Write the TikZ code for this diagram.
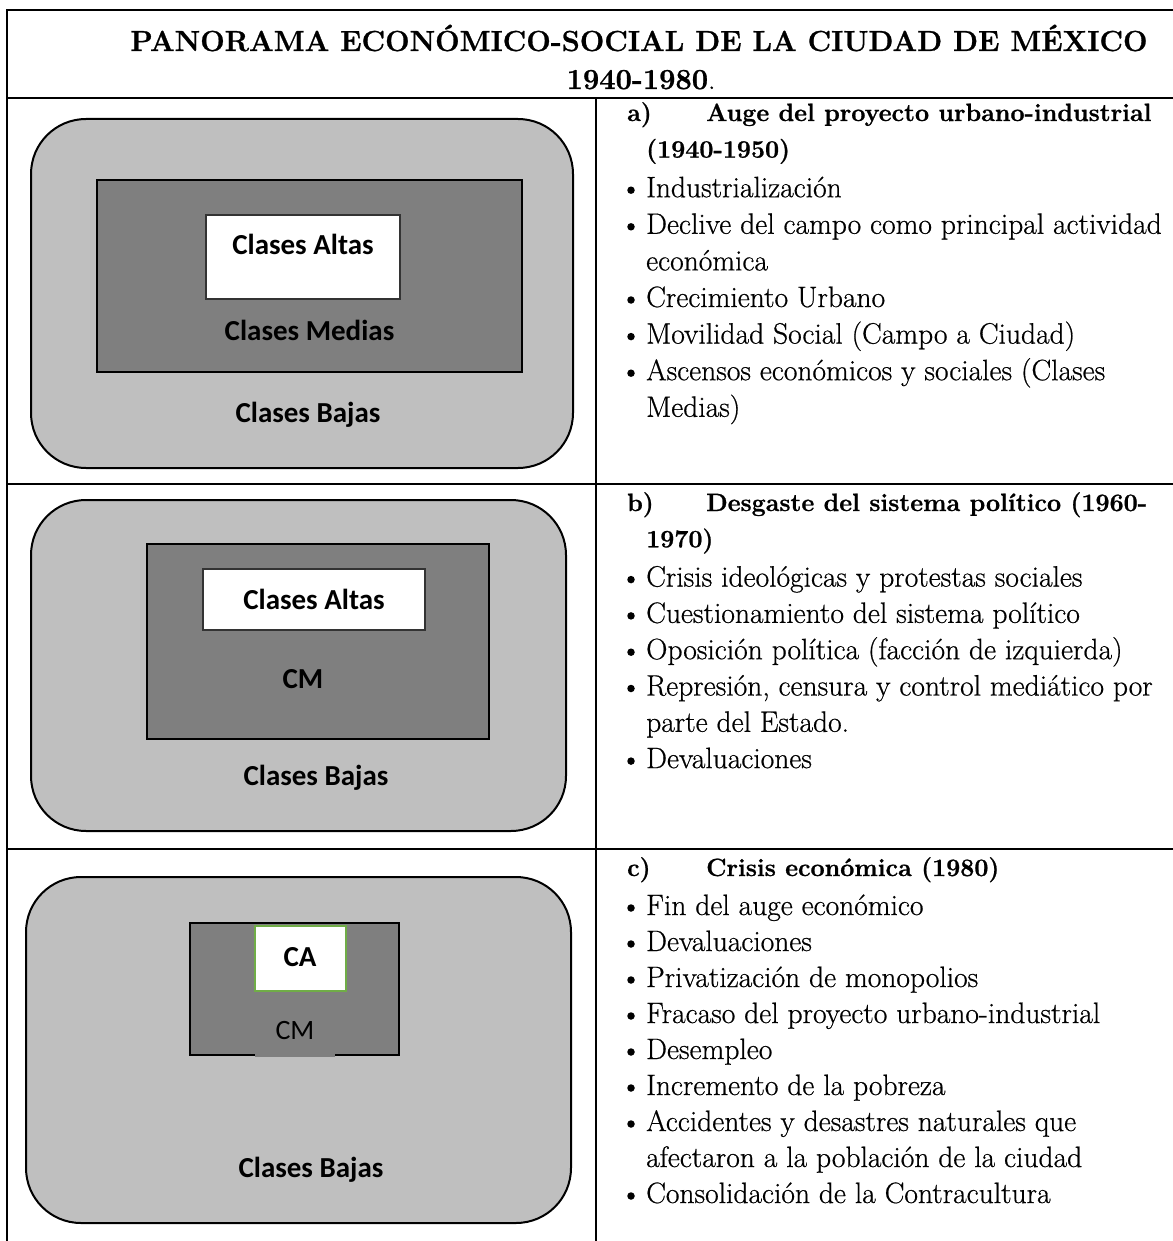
\documentclass[tikz,border=0pt]{standalone}
\usepackage{fontspec}
\newfontfamily\carlito{Carlito}
\newfontfamily\bodyfont{Latin Modern Roman}[RawFeature={embolden=0.6}]
\newfontfamily\headfont{Latin Modern Roman}[RawFeature={embolden=0.9}]
\definecolor{lgray}{RGB}{191,191,191}
\definecolor{dgray}{RGB}{127,127,127}
\definecolor{cagreen}{RGB}{112,173,71}
\tikzset{
  grid/.style={line width=2pt, line cap=rect},
  outerbox/.style={draw=black, line width=2pt, fill=lgray, rounded corners=55pt, inner sep=0pt, outer sep=0pt},
  midbox/.style={draw=black, line width=2pt, fill=dgray, inner sep=0pt, outer sep=0pt},
  topbox/.style={draw=black!80, line width=1.5pt, fill=white, inner sep=0pt, outer sep=0pt},
  greenbox/.style={draw=cagreen, line width=2pt, fill=white, inner sep=0pt, outer sep=0pt},
  boxlbl/.style={inner sep=0pt, font=\carlito\bfseries\fontsize{29}{34}\selectfont},
  boxlblr/.style={inner sep=0pt, font=\carlito\fontsize{28}{34}\selectfont},
  txt/.style={anchor=base west, inner sep=0pt, yshift=-3pt, font=\bodyfont\fontsize{29.5}{34}\selectfont},
  bul/.style={circle, fill=black, inner sep=0pt, minimum size=7.5pt, yshift=4pt},
  head/.style={anchor=base west, inner sep=0pt, font=\headfont\bfseries\fontsize{25}{30}\selectfont},
  ttl/.style={anchor=base, inner sep=0pt, font=\headfont\bfseries\fontsize{29}{34}\selectfont}
}
\begin{document}
\begin{tikzpicture}[x=1pt,y=-1pt]
\useasboundingbox (0,0) rectangle (1172,1241);
\fill[white] (0,0) rectangle (1172,1241);

% table grid
\draw[grid] (1172,10) -- (7,10) -- (7,1241);
\draw[grid] (7,98) -- (1172,98);
\draw[grid] (7,484) -- (1172,484);
\draw[grid] (7,849) -- (1172,849);
\draw[grid] (596,98) -- (596,1241);

% title
\node[ttl] (title1) at (639,51) {PANORAMA ECONÓMICO-SOCIAL DE LA CIUDAD DE MÉXICO};
\node[ttl] (title2) at (641,89) {1940-1980\textmd{.}};

% ---------- row a ----------
\node[outerbox, minimum width=542pt, minimum height=349pt] (oa) at (302,293.5) {};
\node[midbox, minimum width=425pt, minimum height=192pt] (ma) at (309.5,276) {};
\node[topbox, minimum width=194pt, minimum height=84pt] (ta) at (303,257) {};
\node[boxlbl] (la1) at (303,244) {Clases Altas};
\node[boxlbl] (la2) at (309.5,330) {Clases Medias};
\node[boxlbl] (la3) at (308,415) {Clases Bajas};

\node[head] (ha0) at (627,121) {a)};
\node[head] (ha1) at (706,121) {Auge del proyecto urbano-industrial};
\node[head] (ha2) at (646,157.6) {(1940-1950)};
\node[bul] (ba1) at (631,194.2) {};
\node[txt] (ta1) at (646,194.2) {Industrialización};
\node[bul] (ba2) at (631,230.8) {};
\node[txt] (ta2) at (646,230.8) {Declive del campo como principal actividad};
\node[txt] (ta2b) at (646,267.4) {económica};
\node[bul] (ba3) at (631,304) {};
\node[txt] (ta3) at (646,304) {Crecimiento Urbano};
\node[bul] (ba4) at (631,340.6) {};
\node[txt] (ta4) at (646,340.6) {Movilidad Social (Campo a Ciudad)};
\node[bul] (ba5) at (631,377.2) {};
\node[txt] (ta5) at (646,377.2) {Ascensos económicos y sociales (Clases};
\node[txt] (ta5b) at (646,413.8) {Medias)};

% ---------- row b ----------
\node[outerbox, minimum width=535pt, minimum height=331pt] (ob) at (298.5,665.5) {};
\node[midbox, minimum width=342pt, minimum height=195pt] (mb) at (318,641.5) {};
\node[topbox, minimum width=222pt, minimum height=61pt] (tb) at (314,599.5) {};
\node[boxlbl] (lb1) at (314,599) {Clases Altas};
\node[boxlbl] (lb2) at (303,679) {CM};
\node[boxlbl] (lb3) at (316,778) {Clases Bajas};

\node[head] (hb0) at (627,511) {b)};
\node[head] (hb1) at (706,511) {Desgaste del sistema político (1960-};
\node[head] (hb2) at (646,547.3) {1970)};
\node[bul] (bb1) at (631,583.6) {};
\node[txt] (tb1) at (646,583.6) {Crisis ideológicas y protestas sociales};
\node[bul] (bb2) at (631,619.9) {};
\node[txt] (tb2) at (646,619.9) {Cuestionamiento del sistema político};
\node[bul] (bb3) at (631,656.2) {};
\node[txt] (tb3) at (646,656.2) {Oposición política (facción de izquierda)};
\node[bul] (bb4) at (631,692.5) {};
\node[txt] (tb4) at (646,692.5) {Represión, censura y control mediático por};
\node[txt] (tb4b) at (646,728.8) {parte del Estado.};
\node[bul] (bb5) at (631,765.1) {};
\node[txt] (tb5) at (646,765.1) {Devaluaciones};

% ---------- row c ----------
\node[outerbox, minimum width=545pt, minimum height=346pt] (oc) at (298.5,1050) {};
\node[midbox, minimum width=209pt, minimum height=132pt] (mc) at (294.5,989) {};
\fill[dgray] (255,1053) rectangle (335,1057);
\node[greenbox, minimum width=91pt, minimum height=65pt] (tc) at (300.5,958.5) {};
\node[boxlbl] (lc1) at (300,957) {CA};
\node[boxlblr] (lc2) at (295,1030) {CM};
\node[boxlbl] (lc3) at (311,1170) {Clases Bajas};

\node[head] (hc0) at (627,876) {c)};
\node[head] (hc1) at (706,876) {Crisis económica (1980)};
\node[bul] (bc1) at (631,912) {};
\node[txt] (tc1) at (646,912) {Fin del auge económico};
\node[bul] (bc2) at (631,948) {};
\node[txt] (tc2) at (646,948) {Devaluaciones};
\node[bul] (bc3) at (631,984) {};
\node[txt] (tc3) at (646,984) {Privatización de monopolios};
\node[bul] (bc4) at (631,1020) {};
\node[txt] (tc4) at (646,1020) {Fracaso del proyecto urbano-industrial};
\node[bul] (bc5) at (631,1056) {};
\node[txt] (tc5) at (646,1056) {Desempleo};
\node[bul] (bc6) at (631,1092) {};
\node[txt] (tc6) at (646,1092) {Incremento de la pobreza};
\node[bul] (bc7) at (631,1128) {};
\node[txt] (tc7) at (646,1128) {Accidentes y desastres naturales que};
\node[txt] (tc7b) at (646,1164) {afectaron a la población de la ciudad};
\node[bul] (bc8) at (631,1200) {};
\node[txt] (tc8) at (646,1200) {Consolidación de la Contracultura};
\end{tikzpicture}
\end{document}
